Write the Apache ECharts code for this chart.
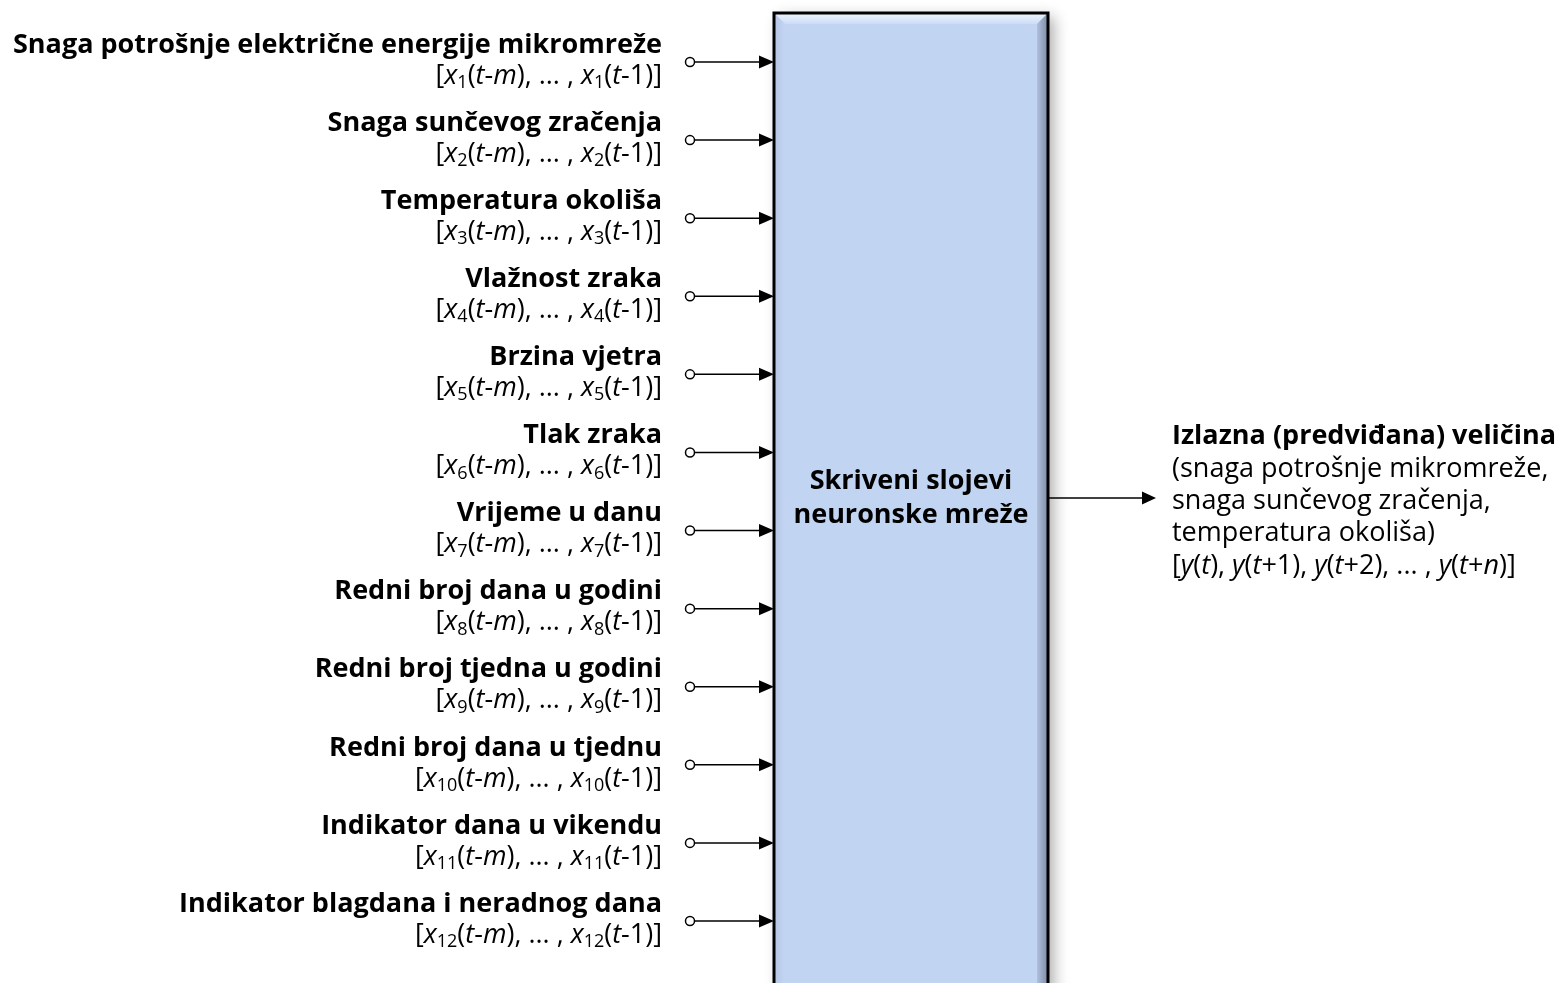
<!DOCTYPE html>
<html>
<head>
<meta charset="utf-8">
<script src="https://cdn.jsdelivr.net/npm/echarts@6/dist/echarts.min.js"></script>
<style>
html,body{margin:0;padding:0;background:#fff;}
#chart{width:1563px;height:983px;}
</style>
</head>
<body>
<div id="chart"></div>
<script>
// ---- data ----
const inputNames = [
  'Snaga potrošnje električne energije mikromreže',
  'Snaga sunčevog zračenja',
  'Temperatura okoliša',
  'Vlažnost zraka',
  'Brzina vjetra',
  'Tlak zraka',
  'Vrijeme u danu',
  'Redni broj dana u godini',
  'Redni broj tjedna u godini',
  'Redni broj dana u tjednu',
  'Indikator dana u vikendu',
  'Indikator blagdana i neradnog dana'
];
const inputSubscripts = ['1','2','3','4','5','6','7','8','9','10','11','12'];
const inputRows = [1,2,3,4,5,6,7,8,9,10,11,12];
const hiddenLines = ['Skriveni slojevi', 'neuronske mreže'];
const outputTitle = 'Izlazna (predviđana) veličina';
const outputLines = ['(snaga potrošnje mikromreže,', 'snaga sunčevog zračenja,', 'temperatura okoliša)'];
const outputSequence = ['t', 't+1', 't+2', 't+n'];

// ---- styles ----
const FONT = '"Open Sans", "Noto Sans", sans-serif';
const BOLD = 'bold 27px ' + FONT;
const REG = '27px ' + FONT;

function subLabel(sub) {
  return '[{i|x}{s|' + sub + '}({i|t}-{i|m}), ... , {i|x}{s|' + sub + '}({i|t}-1)]';
}
function seqLabel(seq) {
  const parts = seq.map(function (s) {
    const m = s.match(/^t(\+)?(.*)$/);
    let inner = '{i|t}';
    if (m[1]) {
      inner += '+' + (/^[0-9]+$/.test(m[2]) ? m[2] : '{i|' + m[2] + '}');
    }
    return '{i|y}(' + inner + ')';
  });
  return '[' + parts.slice(0, 3).join(', ') + ', ... , ' + parts[3] + ']';
}
const richSub = {
  i: { fontStyle: 'italic', fontSize: 27, fontFamily: FONT, lineHeight: 32, verticalAlign: 'middle', fill: '#000' },
  s: { fontSize: 18, fontFamily: FONT, lineHeight: 20, verticalAlign: 'bottom', fill: '#000' }
};

const chart = echarts.init(document.getElementById('chart'), null, { renderer: 'canvas' });

function renderInput(params, api) {
  const row = api.value(0);
  const idx = params.dataIndex;
  const y = api.coord([0, row])[1];
  const cx = 690, r = 4.5, tip = 774, headLen = 15, headH = 6.5;
  return {
    type: 'group',
    children: [
      { type: 'line', shape: { x1: cx + r, y1: y, x2: tip - headLen + 1, y2: y }, style: { stroke: '#000', lineWidth: 1.5 } },
      { type: 'polygon', shape: { points: [[tip - headLen, y - headH], [tip, y], [tip - headLen, y + headH]] }, style: { fill: '#000' } },
      { type: 'circle', shape: { cx: cx, cy: y, r: r }, style: { fill: '#fff', stroke: '#000', lineWidth: 1.5 } },
      { type: 'text', style: { x: 662, y: y - 17, text: inputNames[idx], font: BOLD, fill: '#000', align: 'right', verticalAlign: 'middle' } },
      { type: 'text', style: { x: 662, y: y + 14, text: subLabel(inputSubscripts[idx]), font: REG, fill: '#000', align: 'right', verticalAlign: 'middle', lineHeight: 32, rich: richSub } }
    ]
  };
}

function renderBox(params, api) {
  const cs = params.coordSys;
  const top = api.coord([0, api.value(0)])[1];
  const x0 = 774, x1 = 1048, bottom = cs.y + cs.height + 80;
  const bw = 11;
  const children = [
    { type: 'rect', shape: { x: x0, y: top, width: x1 - x0, height: bottom - top },
      style: { fill: '#c1d4f2', shadowBlur: 14, shadowOffsetX: 6, shadowOffsetY: 4, shadowColor: 'rgba(0,0,0,0.32)' } },
    { type: 'polygon', shape: { points: [[x0, top], [x1, top], [x1 - bw, top + bw], [x0 + bw, top + bw]] },
      style: { fill: new echarts.graphic.LinearGradient(0, 0, 0, 1, [{ offset: 0, color: '#eef4fd' }, { offset: 1, color: '#cddcf6' }]) } },
    { type: 'polygon', shape: { points: [[x0, top], [x0 + bw, top + bw], [x0 + bw, bottom - bw], [x0, bottom]] },
      style: { fill: new echarts.graphic.LinearGradient(0, 0, 1, 0, [{ offset: 0, color: '#b4c6e4' }, { offset: 1, color: '#c3d5f2' }]) } },
    { type: 'polygon', shape: { points: [[x1, top], [x1, bottom], [x1 - bw, bottom - bw], [x1 - bw, top + bw]] },
      style: { fill: new echarts.graphic.LinearGradient(0, 0, 1, 0, [{ offset: 0, color: '#b0c0dc' }, { offset: 1, color: '#7d8ba3' }]) } },
    { type: 'rect', shape: { x: x0, y: top, width: x1 - x0, height: bottom - top }, style: { fill: null, stroke: '#000', lineWidth: 3 } }
  ];
  return { type: 'group', children: children };
}

function renderCenter(params, api) {
  const y = api.coord([0, api.value(0)])[1];
  return {
    type: 'group',
    children: [
      { type: 'text', style: { x: 911, y: y - 17, text: hiddenLines[0], font: BOLD, fill: '#000', align: 'center', verticalAlign: 'middle' } },
      { type: 'text', style: { x: 911, y: y + 17, text: hiddenLines[1], font: BOLD, fill: '#000', align: 'center', verticalAlign: 'middle' } }
    ]
  };
}

function renderOutput(params, api) {
  const y = api.coord([0, api.value(0)])[1];
  const x0 = 1049, tip = 1156, headLen = 14, headH = 6.5, tx = 1172;
  const lines = [
    { type: 'text', style: { x: tx, y: y - 62, text: outputTitle, font: BOLD, fill: '#000', align: 'left', verticalAlign: 'middle' } }
  ];
  outputLines.forEach(function (t, k) {
    lines.push({ type: 'text', style: { x: tx, y: y - 29 + k * 32.3, text: t, font: REG, fill: '#000', align: 'left', verticalAlign: 'middle' } });
  });
  lines.push({ type: 'text', style: { x: tx, y: y + 68, text: seqLabel(outputSequence), font: REG, fill: '#000', align: 'left', verticalAlign: 'middle', lineHeight: 32, rich: richSub } });
  return {
    type: 'group',
    children: [
      { type: 'line', shape: { x1: x0, y1: y, x2: tip - headLen + 1, y2: y }, style: { stroke: '#000', lineWidth: 1.5 } },
      { type: 'polygon', shape: { points: [[tip - headLen, y - headH], [tip, y], [tip - headLen, y + headH]] }, style: { fill: '#000' } }
    ].concat(lines)
  };
}

chart.setOption({
  animation: false,
  backgroundColor: '#fff',
  grid: { left: 0, right: 0, top: 62, bottom: 62 },
  xAxis: { type: 'value', min: 0, max: 1563, show: false },
  yAxis: { type: 'value', min: 1, max: 12, inverse: true, show: false },
  series: [
    { type: 'custom', clip: false, renderItem: renderBox, data: [[0.373]], z: 1 },
    { type: 'custom', clip: false, renderItem: renderInput, data: inputRows.map(function (r) { return [r]; }), z: 2 },
    { type: 'custom', clip: false, renderItem: renderCenter, data: [[6.59]], z: 3 },
    { type: 'custom', clip: false, renderItem: renderOutput, data: [[6.583]], z: 3 }
  ]
});
</script>
</body>
</html>
